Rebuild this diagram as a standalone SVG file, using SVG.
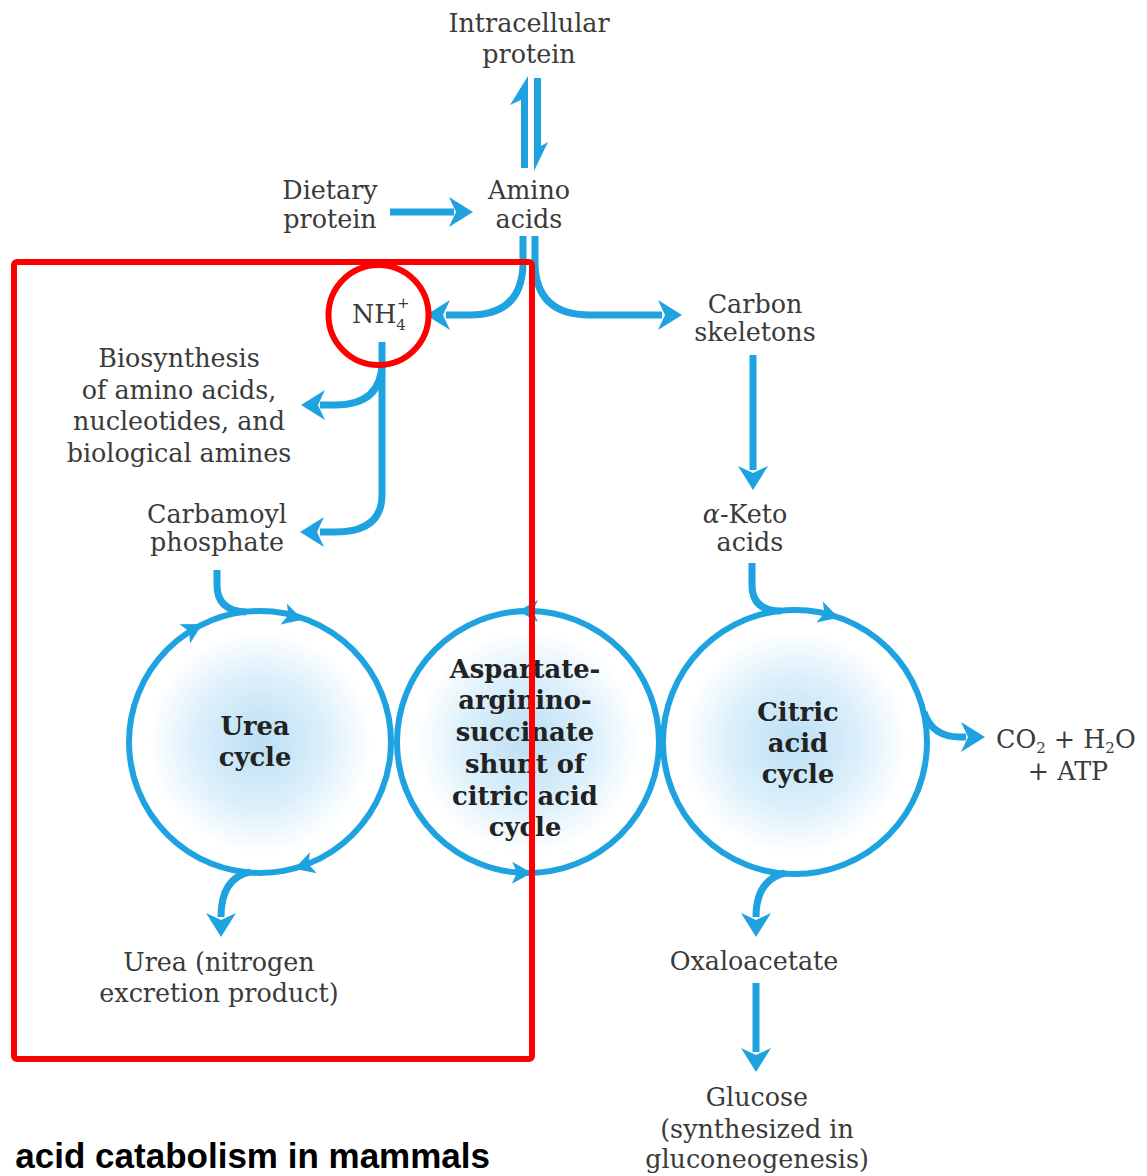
<svg xmlns="http://www.w3.org/2000/svg" xmlns:xlink="http://www.w3.org/1999/xlink" width="1147" height="1176" viewBox="0 0 1147 1176">
<style>
.t{font-family:"DejaVu Serif","Liberation Serif",serif;font-size:25.4px;fill:#3a3a3a;text-anchor:middle}
.b{font-family:"DejaVu Serif","Liberation Serif",serif;font-size:25.8px;font-weight:bold;fill:#222;text-anchor:middle}
.c{fill:none;stroke:#1ea3e0;stroke-width:7;stroke-linecap:butt}
.ring{stroke:#1ea3e0;stroke-width:6}
.ah{fill:#1ea3e0}
.red{fill:none;stroke:#ff0000;stroke-width:6}
.cap{font-family:"Liberation Sans",Arial,sans-serif;font-size:35px;font-weight:bold;fill:#000;text-anchor:end}
</style>
<defs>
<radialGradient id="glow" cx="50%" cy="50%" r="50%">
<stop offset="0" stop-color="#bcdff4"/>
<stop offset="0.5" stop-color="#dcf0fb"/>
<stop offset="0.85" stop-color="#ffffff"/>
</radialGradient>
<path id="ah" d="M0,0 L-24,-15 L-17,0 L-24,15 Z"/>
<path id="ahs" d="M6,0 L-14,-11 L-9,0 L-14,11 Z"/>
</defs>
<rect width="1147" height="1176" fill="#ffffff"/>

<g id="urea-cycle">
<circle cx="260" cy="742" r="131" fill="url(#glow)" class="ring"/>
<text class="b" x="255" y="735">Urea</text>
<text class="b" x="255" y="766">cycle</text>
</g>
<g id="shunt">
<circle cx="528" cy="742" r="131" fill="url(#glow)" class="ring"/>
<text class="b" x="525" y="678">Aspartate-</text>
<text class="b" x="525" y="709">arginino-</text>
<text class="b" x="525" y="741">succinate</text>
<text class="b" x="525" y="773">shunt of</text>
<text class="b" x="525" y="805">citric acid</text>
<text class="b" x="525" y="836">cycle</text>
</g>
<g id="citric-cycle">
<circle cx="795" cy="742" r="132" fill="url(#glow)" class="ring"/>
<text class="b" x="798" y="721">Citric</text>
<text class="b" x="798" y="752">acid</text>
<text class="b" x="798" y="783">cycle</text>
</g>

<g id="intracellular-protein"><text class="t" x="529" y="32">Intracellular</text><text class="t" x="529" y="63">protein</text></g>
<g id="dietary-protein"><text class="t" x="330" y="199">Dietary</text><text class="t" x="330" y="228">protein</text></g>
<g id="amino-acids"><text class="t" x="529" y="199">Amino</text><text class="t" x="529" y="228">acids</text></g>
<g id="nh4"><text class="t" x="352" y="323" style="text-anchor:start">NH<tspan font-size="15" dy="7">4</tspan><tspan font-size="15" dx="-9" dy="-22">+</tspan></text></g>
<g id="carbon-skeletons"><text class="t" x="755" y="313">Carbon</text><text class="t" x="755" y="341">skeletons</text></g>
<g id="biosynthesis">
<text class="t" x="179" y="367">Biosynthesis</text>
<text class="t" x="179" y="399">of amino acids,</text>
<text class="t" x="179" y="430">nucleotides, and</text>
<text class="t" x="179" y="462">biological amines</text>
</g>
<g id="carbamoyl-phosphate"><text class="t" x="217" y="523">Carbamoyl</text><text class="t" x="217" y="551">phosphate</text></g>
<g id="alpha-keto-acids"><text class="t" x="745" y="523"><tspan font-style="italic">α</tspan>-Keto</text><text class="t" x="750" y="551">acids</text></g>
<g id="products"><text class="t" x="996" y="748" style="text-anchor:start">CO<tspan font-size="15" dy="5">2</tspan><tspan dy="-5"> + H</tspan><tspan font-size="15" dy="5">2</tspan><tspan dy="-5">O</tspan></text><text class="t" x="1068" y="780">+ ATP</text></g>
<g id="urea"><text class="t" x="219" y="971">Urea (nitrogen</text><text class="t" x="219" y="1002">excretion product)</text></g>
<g id="oxaloacetate"><text class="t" x="754" y="970">Oxaloacetate</text></g>
<g id="glucose">
<text class="t" x="757" y="1106">Glucose</text>
<text class="t" x="757" y="1138">(synthesized in</text>
<text class="t" x="757" y="1168">gluconeogenesis)</text>
</g>

<g id="connectors">
<path class="ah" d="M528,76 L528,168 L521,168 L521,100 L510,105 Z"/>
<path class="ah" d="M534,171 L534,78 L541,78 L541,146 L548,142 Z"/>
<path class="c" d="M390,212 H454"/>
<use href="#ah" class="ah" transform="translate(473,212)"/>
<path class="c" d="M523,236 V262 Q523,315 470,315 H446"/>
<use href="#ah" class="ah" transform="translate(426,315) rotate(180)"/>
<path class="c" d="M535,236 V262 Q535,315 590,315 H662"/>
<use href="#ah" class="ah" transform="translate(682,315)"/>
<path class="c" d="M382,342 V495 Q382,532 335,532 H320"/>
<use href="#ah" class="ah" transform="translate(300,532) rotate(180)"/>
<path class="c" d="M382,362 Q382,405 335,405 H320"/>
<use href="#ah" class="ah" transform="translate(301,405) rotate(180)"/>
<path class="c" d="M753,355 V470"/>
<use href="#ah" class="ah" transform="translate(753,490) rotate(90)"/>
<path class="c" d="M752,563 V585 Q752,611 781,611"/>
<path class="c" d="M217,570 V585 Q217,611 246,612"/>
<path class="c" d="M250,872 Q221,878 221,917"/>
<use href="#ah" class="ah" transform="translate(221,937) rotate(90)"/>
<path class="c" d="M785,873 Q756,880 756,917"/>
<use href="#ah" class="ah" transform="translate(756,937) rotate(90)"/>
<path class="c" d="M924,712 Q932,737 960,737 H966"/>
<use href="#ah" class="ah" transform="translate(985,737)"/>
<path class="c" d="M756,983 V1052"/>
<use href="#ah" class="ah" transform="translate(756,1072) rotate(90)"/>
<use href="#ahs" class="ah" transform="translate(197,627) rotate(-29)"/>
<use href="#ahs" class="ah" transform="translate(297,618) rotate(17)"/>
<use href="#ahs" class="ah" transform="translate(300,867) rotate(162)"/>
<use href="#ahs" class="ah" transform="translate(524,611) rotate(180)"/>
<use href="#ahs" class="ah" transform="translate(526,873) rotate(1)"/>
<use href="#ahs" class="ah" transform="translate(833,616) rotate(17)"/>
</g>

<g id="annotations">
<rect class="red" x="14" y="262" width="518" height="797" rx="3"/>
<circle class="red" cx="378.5" cy="315" r="50" stroke-width="4.5"/>
</g>
<g id="caption"><text class="cap" x="490" y="1168">acid catabolism in mammals</text></g>
</svg>
